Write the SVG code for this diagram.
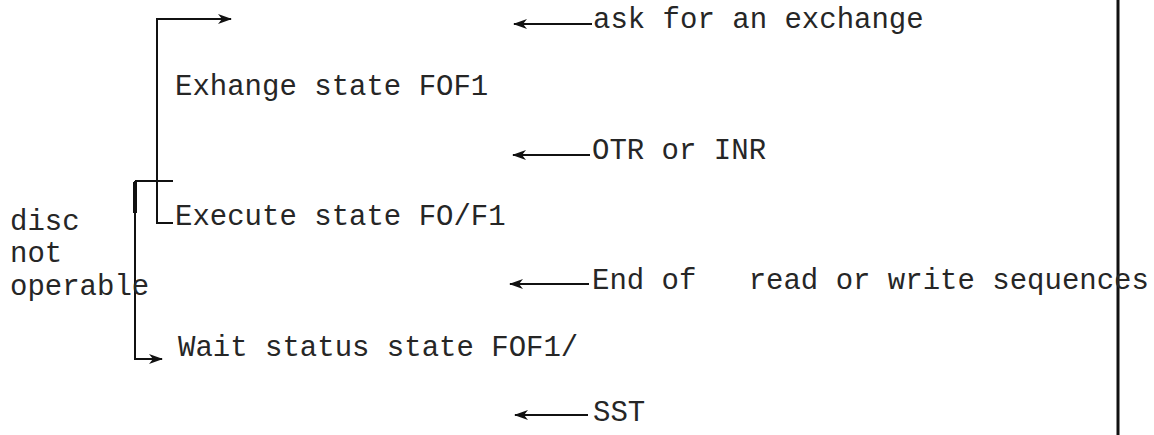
<svg xmlns="http://www.w3.org/2000/svg" width="1154" height="435" viewBox="0 0 1154 435">
<defs>
<style>
text{font-family:"Liberation Mono","Courier New",monospace;font-size:29px;fill:#262626;white-space:pre}
.ln{stroke:#111;stroke-width:2;fill:none}
</style>
<marker id="ah" viewBox="0 0 14 10" refX="13" refY="5" markerWidth="14" markerHeight="10" markerUnits="userSpaceOnUse" orient="auto">
<path d="M0,0 L14,5 L0,10 L4,5 Z" fill="#111"/>
</marker>
</defs>
<rect width="1154" height="435" fill="#fff"/>
<g id="connectors">
<path class="ln" d="M173,223 H157 V19 H231" marker-end="url(#ah)"/>
<path class="ln" d="M135,181 H173"/>
<path class="ln" d="M135,181 V359 H162" marker-end="url(#ah)"/>
<path d="M135,182 V213" stroke="#111" stroke-width="4"/>
<path class="ln" d="M592,24 H514" marker-end="url(#ah)"/>
<path class="ln" d="M590,155 H513" marker-end="url(#ah)"/>
<path class="ln" d="M589,284 H510" marker-end="url(#ah)"/>
<path class="ln" d="M588,415 H515" marker-end="url(#ah)"/>
<path d="M1118,0 V435" stroke="#111" stroke-width="3"/>
</g>
<g id="exchange"><text x="175" y="95">Exhange state FOF1</text></g>
<g id="execute"><text x="175" y="225">Execute state FO/F1</text></g>
<g id="wait"><text x="178" y="356">Wait status state FOF1/</text></g>
<g id="disc"><text x="10" y="230">disc</text><text x="10" y="262">not</text><text x="10" y="295">operable</text></g>
<g id="ask"><text x="593" y="28">ask for an exchange</text></g>
<g id="otr"><text x="592" y="159">OTR or INR</text></g>
<g id="end"><text x="592" y="289">End of   read or write sequences</text></g>
<g id="sst"><text x="593" y="421">SST</text></g>
</svg>
